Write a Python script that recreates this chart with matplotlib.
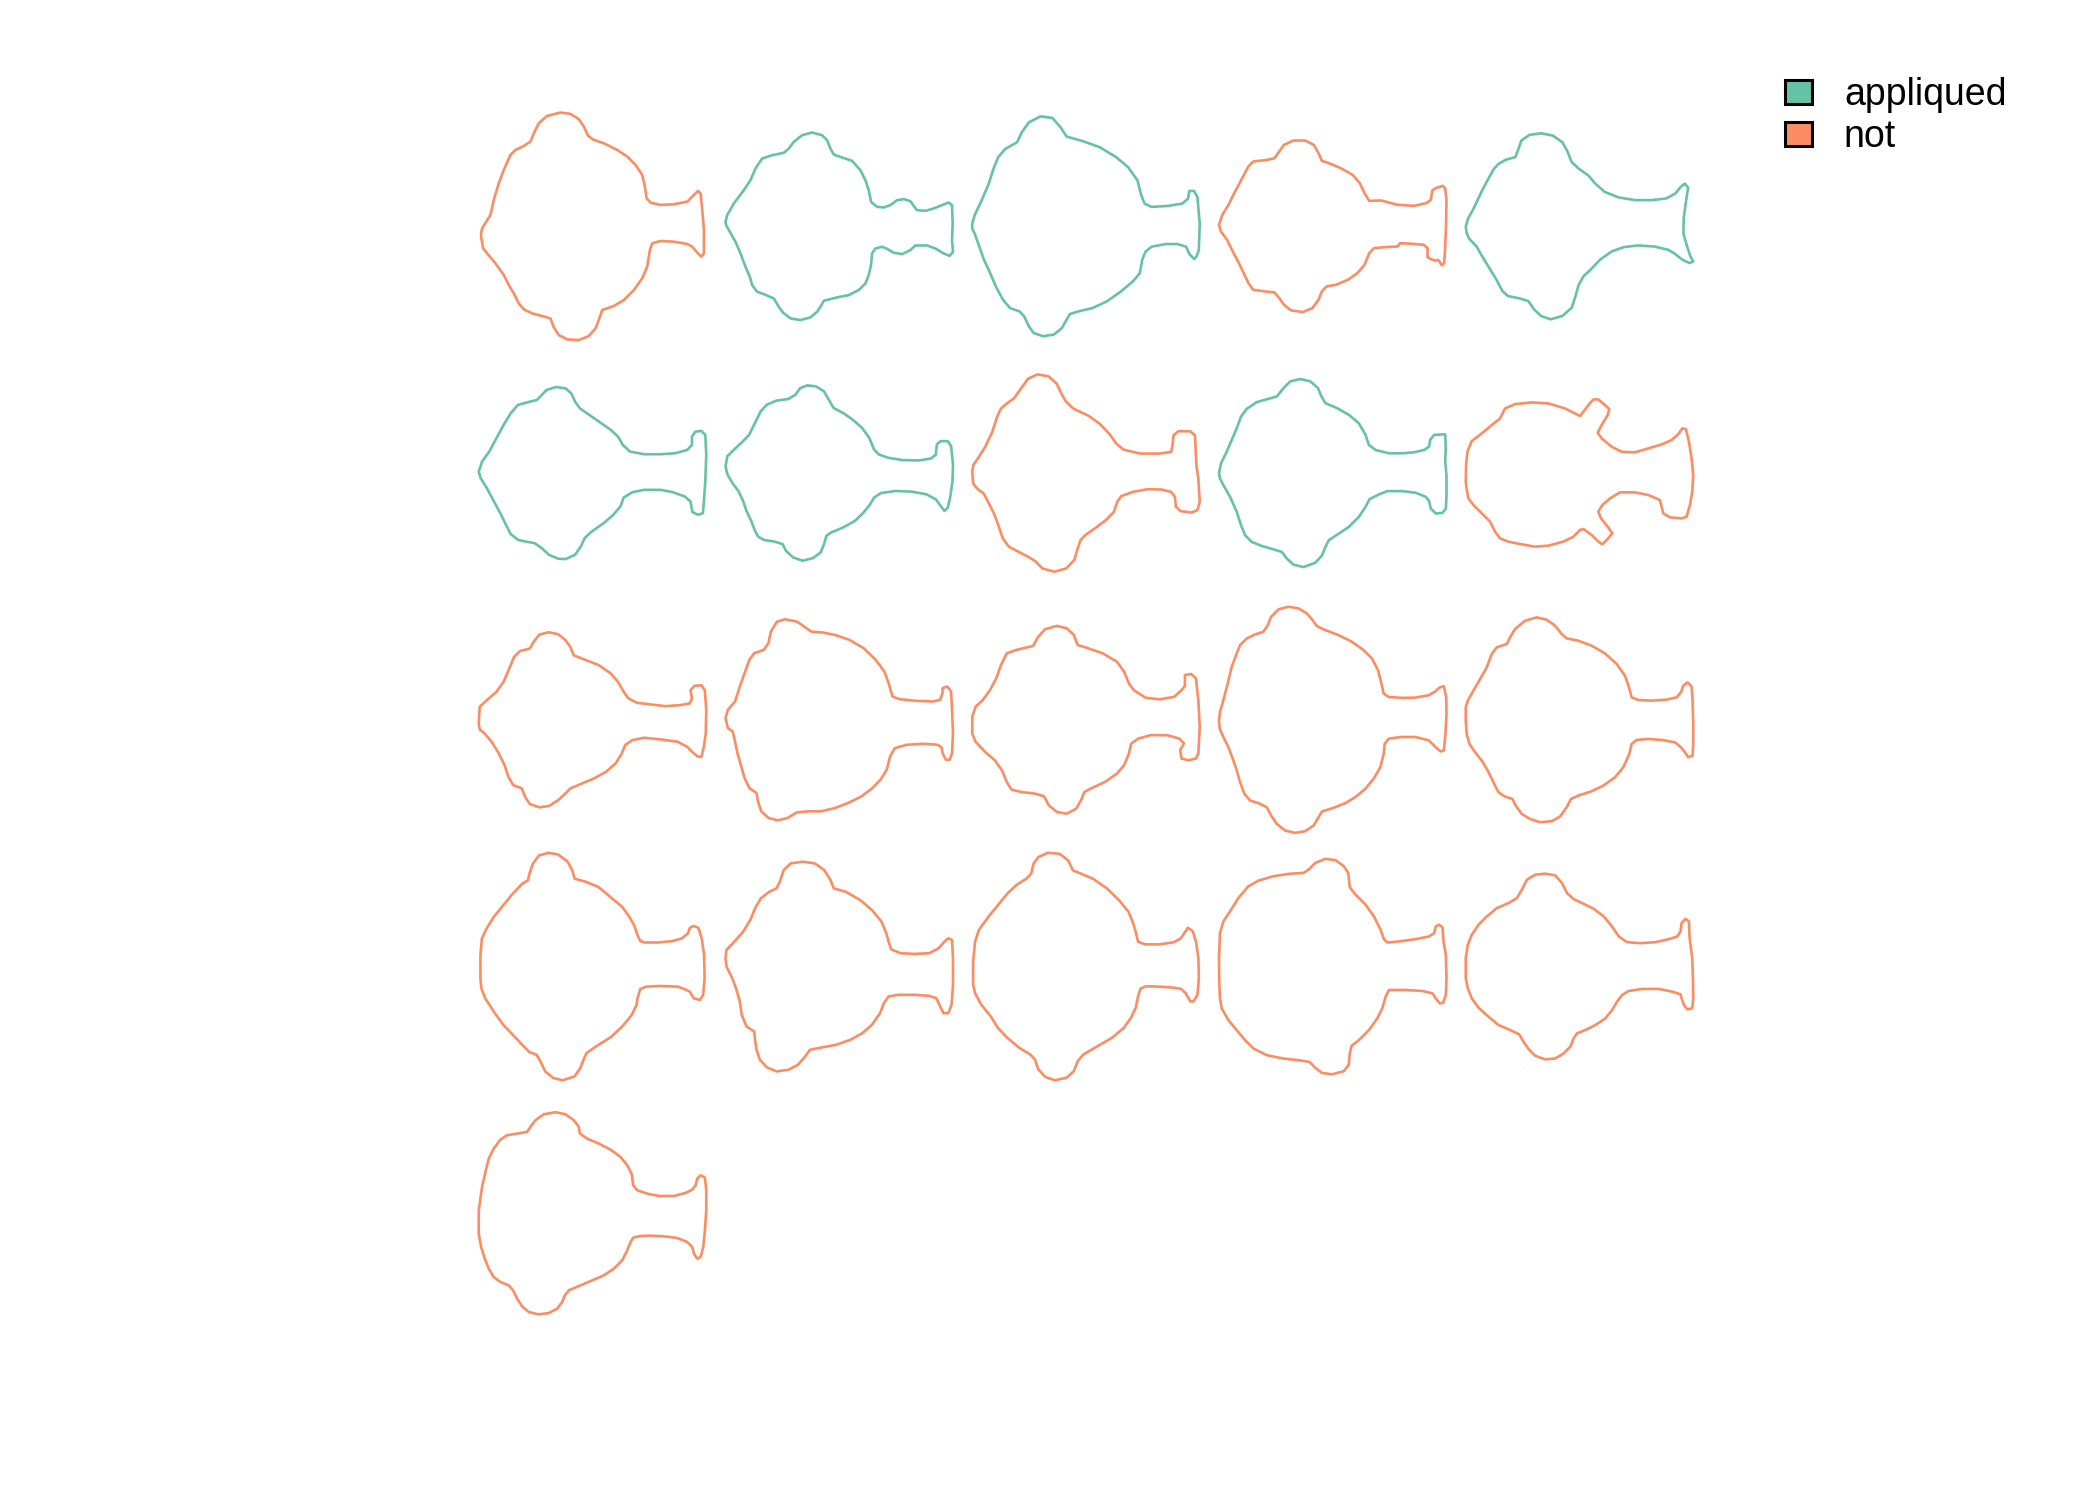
import matplotlib
matplotlib.use("Agg")
import matplotlib.pyplot as plt
from matplotlib.patches import Polygon, Patch
import numpy as np

plt.rcParams["font.family"] = ["Liberation Sans", "DejaVu Sans"]

# outlines (pixel units of the read-off crops, y downwards)
R1C1 = [(62,430),(65,415),(90,375),(100,330),(115,280),(130,240),(150,195),(165,180),(190,168),(210,155),
        (220,130),(235,100),(260,78),(300,68),(330,72),(355,88),(370,110),(383,138),(400,150),(430,160),
        (470,180),(500,200),(525,225),(545,255),(553,290),(558,325),(570,338),(600,345),(640,343),(680,335),
        (700,315),(712,303),(720,310),(725,360),(730,420),(730,490),(722,500),(710,488),(695,470),(680,462),
        (640,455),(600,453),(575,460),(568,480),(560,530),(545,565),(520,600),(490,630),(460,648),(425,660),
        (415,690),(405,715),(385,738),(355,750),(320,748),(295,735),(280,712),(270,685),(245,678),(215,670),
        (190,658),(175,640),(160,610),(145,585),(130,555),(105,520),(80,490),(68,475),(62,440)]
R1C2 = [(795,395),(800,375),(820,340),(850,300),(870,270),(885,235),(905,205),(935,195),(970,188),(985,175),
        (1000,155),(1025,135),(1055,127),(1085,135),(1100,150),(1110,175),(1120,193),(1145,202),(1175,212),
        (1200,240),(1215,270),(1225,300),(1232,335),(1250,350),(1270,352),(1290,345),(1310,330),(1330,327),
        (1350,333),(1362,350),(1370,360),(1395,362),(1420,355),(1445,345),(1465,337),(1475,345),(1477,400),
        (1475,450),(1478,485),(1468,497),(1450,490),(1425,475),(1400,466),(1365,466),(1350,480),(1325,492),
        (1300,488),(1280,476),(1265,470),(1245,475),(1235,490),(1232,525),(1225,555),(1215,580),(1195,600),
        (1165,615),(1130,622),(1090,632),(1080,650),(1070,665),(1050,682),(1020,690),(990,685),(968,668),
        (955,650),(940,625),(910,612),(890,605),(875,585),(868,560),(855,530),(840,490),(825,455),(808,425),
        (797,405)]
R1C3 = [(5,370),(10,345),(25,300),(40,250),(50,205),(60,170),(75,145),(100,125),(110,95),(125,65),(150,47),
        (175,52),(192,80),(205,108),(240,122),(275,140),(310,170),(335,200),(355,240),(362,280),(370,310),
        (385,320),(420,317),(450,310),(462,295),(465,272),(475,272),(482,290),(487,370),(485,450),(480,470),
        (475,477),(465,462),(458,440),(440,432),(415,432),(385,440),(372,455),(365,480),(360,520),(345,545),
        (320,575),(290,605),(260,625),(230,635),(212,643),(205,660),(195,685),(178,705),(155,710),(135,700),
        (125,680),(115,650),(105,635),(85,625),(70,600),(55,560),(40,510),(30,480),(20,440),(10,400),(5,385)]
R1C4 = [(528,375),(535,345),(548,315),(560,280),(575,240),(590,200),(600,185),(630,180),(645,175),(655,155),
        (665,135),(685,122),(710,122),(728,135),(738,160),(745,183),(760,190),(785,205),(810,225),(825,250),
        (835,280),(845,303),(870,302),(905,315),(940,318),(965,310),(975,300),(978,272),(985,265),(1000,258),
        (1005,265),(1008,300),(1007,380),(1005,450),(1003,490),(998,497),(993,485),(990,480),(985,483),
        (975,478),(968,472),(968,445),(960,435),(935,432),(910,430),(905,440),(880,442),(855,445),(845,460),
        (835,495),(820,520),(800,540),(775,555),(755,560),(745,575),(738,600),(725,625),(705,637),(680,632),
        (665,615),(655,595),(645,578),(625,575),(600,570),(590,550),(580,520),(570,490),(557,455),(545,420),
        (532,395)]
R1C5 = [(1050,380),(1055,355),(1065,330),(1075,300),(1085,270),(1100,230),(1110,205),(1120,190),(1135,178),
        (1155,170),(1162,145),(1168,120),(1185,103),(1210,98),(1235,105),(1255,125),(1265,150),(1275,185),
        (1290,205),(1310,225),(1325,250),(1345,275),(1375,292),(1410,300),(1445,300),(1475,295),(1495,280),
        (1505,262),(1515,250),(1522,262),(1518,300),(1513,350),(1512,400),(1520,440),(1527,470),(1533,485),
        (1525,490),(1510,480),(1495,463),(1480,450),(1450,440),(1415,437),(1385,442),(1360,455),(1335,480),
        (1315,510),(1300,530),(1290,555),(1283,590),(1275,625),(1255,650),(1230,660),(1210,650),(1195,630),
        (1183,605),(1165,597),(1140,590),(1128,575),(1115,540),(1100,505),(1085,470),(1073,440),(1058,418),
        (1052,400)]
R2C1 = [(18,350),(25,320),(40,290),(55,250),(70,210),(85,175),(100,150),(125,140),(140,135),(150,120),
        (160,105),(180,96),(200,100),(212,115),(220,140),(230,160),(245,175),(270,200),(295,225),(310,245),
        (320,270),(335,290),(365,298),(400,298),(430,295),(455,285),(465,270),(465,245),(472,230),(485,228),
        (493,240),(495,300),(493,380),(490,440),(488,475),(478,480),(466,472),(462,440),(450,425),(425,412),
        (400,405),(365,405),(340,412),(322,428),(315,455),(300,480),(280,505),(255,530),(240,550),(232,575),
        (220,600),(200,613),(185,612),(165,600),(150,580),(135,565),(115,560),(100,555),(85,538),(75,510),
        (65,480),(50,440),(35,400),(22,370)]
R2C2 = [(538,335),(542,305),(560,280),(575,260),(588,240),(600,205),(612,170),(625,150),(645,138),(670,133),
        (685,120),(695,100),(710,92),(728,95),(745,110),(755,135),(765,160),(785,175),(805,195),(825,220),
        (840,250),(850,285),(860,300),(880,310),(910,317),(945,318),(970,312),(980,300),(982,270),(990,260),
        (1005,260),(1012,275),(1016,330),(1015,380),(1010,430),(1005,460),(998,470),(990,455),(980,435),
        (960,420),(930,412),(895,410),(865,416),(850,430),(842,450),(828,475),(810,500),(785,520),(760,535),
        (750,545),(745,570),(738,595),(722,612),(700,620),(680,610),(665,590),(658,570),(640,562),(620,558),
        (607,548),(600,530),(592,500),(582,470),(575,440),(565,410),(552,385),(542,360)]
R2C3 = [(1058,350),(1060,330),(1072,305),(1085,275),(1100,230),(1110,185),(1118,160),(1130,145),(1145,130),
        (1160,100),(1175,70),(1195,57),(1218,63),(1235,85),(1245,115),(1255,140),(1270,160),(1300,180),
        (1325,205),(1345,235),(1360,265),(1375,283),(1410,295),(1450,295),(1475,290),(1478,270),(1480,240),
        (1490,228),(1515,228),(1525,240),(1527,300),(1528,330),(1532,370),(1535,440),(1530,465),(1518,472),
        (1495,468),(1485,455),(1483,425),(1475,410),(1455,403),(1425,402),(1395,410),(1370,423),(1362,440),
        (1355,470),(1338,495),(1315,520),(1295,540),(1285,555),(1278,585),(1272,615),(1255,640),(1230,650),
        (1205,640),(1190,618),(1175,605),(1155,590),(1135,575),(1122,550),(1115,520),(1105,480),(1093,445),
        (1082,415),(1068,400),(1060,385)]
R2C4 = [(12,355),(18,325),(35,290),(50,255),(65,220),(78,185),(95,162),(125,142),(160,132),(185,125),
        (205,100),(225,80),(255,73),(285,80),(308,100),(318,125),(330,145),(365,160),(400,180),(430,205),
        (450,240),(460,270),(480,285),(520,295),(560,295),(595,292),(625,285),(640,275),(643,255),(655,240),
        (688,238),(690,280),(688,320),(692,360),(692,420),(690,460),(680,473),(660,475),(645,460),(640,438),
        (630,425),(600,413),(560,408),(515,408),(490,418),(462,432),(450,455),(430,485),(400,515),(370,535),
        (340,555),(330,575),(320,600),(300,622),(265,635),(235,628),(215,610),(200,590),(175,582),(140,572),
        (110,560),(90,540),(78,510),(65,470),(45,425),(25,390),(15,370)]
R2C5 = [(752,380),(753,330),(757,290),(770,258),(800,235),(830,210),(855,190),(870,160),(900,147),(950,142),
        (1000,145),(1050,160),(1080,175),(1095,183),(1105,170),(1120,150),(1135,133),(1150,133),(1168,148),
        (1183,162),(1178,180),(1160,210),(1148,233),(1160,250),(1190,275),(1220,290),(1260,292),(1300,280),
        (1340,268),(1370,255),(1390,237),(1402,220),(1413,222),(1422,260),(1430,310),(1435,360),(1432,410),
        (1425,450),(1415,485),(1400,490),(1365,487),(1345,475),(1340,455),(1335,435),(1300,420),(1260,412),
        (1215,412),(1185,430),(1162,450),(1150,470),(1158,490),(1178,515),(1192,535),(1178,552),(1162,568),
        (1148,558),(1130,540),(1105,522),(1095,525),(1075,545),(1045,560),(1000,572),(960,575),(920,568),
        (880,560),(855,550),(840,530),(825,500),(800,475),(775,450),(760,430),(755,405)]
R3C1 = [(18,370),(20,320),(35,300),(55,275),(70,245),(82,205),(92,170),(105,152),(125,145),(133,125),
        (145,103),(165,96),(185,102),(200,120),(210,140),(217,165),(240,178),(270,195),(295,220),(310,245),
        (322,275),(332,295),(350,308),(380,313),(410,318),(440,315),(460,310),(465,295),(462,270),(470,257),
        (485,255),(492,270),(495,330),(494,400),(490,440),(485,470),(478,470),(465,455),(455,440),(435,425),
        (400,418),(365,413),(340,420),(325,435),(318,460),(305,490),(285,515),(260,535),(235,550),(210,565),
        (200,580),(185,600),(165,618),(145,622),(125,612),(115,590),(108,565),(90,555),(80,530),(72,495),
        (60,460),(45,425),(30,400),(20,388)]
R3C2 = [(540,355),(545,330),(560,305),(570,260),(580,220),(590,180),(600,160),(620,150),(630,130),(635,95),
        (648,65),(665,58),(690,65),(705,80),(720,95),(745,98),(770,105),(800,120),(830,145),(855,180),
        (873,215),(882,250),(890,290),(905,298),(940,303),(975,305),(990,300),(995,280),(995,265),(1005,260),
        (1013,275),(1015,330),(1017,400),(1015,460),(1010,480),(1002,480),(995,460),(993,443),(985,435),
        (955,432),(920,435),(895,445),(885,470),(878,510),(865,540),(848,565),(825,590),(800,608),(770,625),
        (740,635),(715,635),(690,638),(670,655),(650,662),(630,655),(615,635),(608,605),(605,580),(590,565),
        (580,535),(573,500),(565,460),(560,425),(555,395),(545,385)]
R3C3 = [(1058,380),(1058,350),(1065,320),(1080,300),(1095,270),(1108,235),(1118,195),(1130,160),(1150,150),
        (1170,143),(1185,138),(1195,112),(1210,88),(1235,78),(1255,85),(1270,105),(1278,135),(1300,145),
        (1330,160),(1360,185),(1375,215),(1385,250),(1395,270),(1420,293),(1450,298),(1480,290),(1495,270),
        (1502,258),(1502,225),(1515,222),(1525,235),(1530,300),(1533,380),(1530,460),(1525,475),(1510,480),
        (1495,475),(1492,450),(1500,430),(1490,415),(1465,405),(1430,405),(1405,415),(1390,430),(1385,460),
        (1375,495),(1360,520),(1335,545),(1305,565),(1292,575),(1285,600),(1275,625),(1255,640),(1235,635),
        (1218,615),(1208,588),(1190,580),(1160,575),(1140,568),(1130,545),(1120,510),(1105,480),(1085,455),
        (1065,425),(1058,400)]
R3C4 = [(12,360),(15,335),(25,300),(38,250),(50,200),(65,160),(75,135),(95,115),(120,103),(145,95),(158,75),
        (168,50),(190,28),(220,20),(250,25),(275,40),(292,60),(305,78),(330,90),(370,105),(410,125),(445,150),
        (470,175),(488,210),(497,245),(505,280),(520,290),(560,293),(600,292),(640,285),(660,273),(672,262),
        (685,258),(692,290),(693,340),(690,400),(685,450),(675,453),(660,440),(640,420),(600,410),(555,410),
        (520,415),(508,430),(505,460),(495,500),(475,535),(450,565),(420,590),(390,608),(355,622),(320,633),
        (310,650),(295,675),(270,692),(240,697),(210,690),(185,670),(168,645),(155,620),(130,608),(105,600),
        (88,580),(75,545),(65,510),(55,480),(40,440),(25,410),(14,385)]
R3C5 = [(752,360),(752,320),(758,300),(775,270),(795,235),(815,200),(830,160),(845,140),(875,130),(885,110),
        (900,85),(930,60),(965,50),(995,57),(1020,75),(1040,100),(1055,113),(1090,120),(1130,135),(1170,158),
        (1205,190),(1230,225),(1242,260),(1250,290),(1270,298),(1310,300),(1355,297),(1385,290),(1398,275),
        (1405,255),(1418,245),(1430,258),(1433,300),(1435,370),(1435,430),(1433,465),(1420,470),(1410,455),
        (1398,440),(1380,425),(1340,418),(1300,415),(1265,418),(1250,430),(1243,460),(1225,500),(1200,530),
        (1165,555),(1130,572),(1090,585),(1068,595),(1055,620),(1035,648),(1010,662),(975,665),(945,655),
        (920,640),(902,615),(892,595),(870,588),(850,575),(835,545),(818,510),(800,480),(780,455),(763,430),
        (755,400)]
R4C1 = [(22,400),(22,330),(25,280),(35,250),(50,215),(70,180),(90,145),(110,115),(122,105),(125,85),(132,55),
        (145,30),(165,22),(185,27),(205,48),(215,75),(220,100),(245,110),(270,125),(295,155),(320,185),
        (335,215),(345,240),(352,270),(358,288),(368,292),(395,292),(425,288),(445,280),(458,265),(462,248),
        (470,242),(480,248),(487,280),(492,330),(493,400),(490,450),(483,465),(470,460),(462,440),(450,432),
        (437,425),(400,423),(370,425),(358,432),(352,460),(350,480),(340,510),(320,545),(295,578),(265,605),
        (245,625),(240,640),(232,670),(220,695),(195,707),(175,700),(158,680),(148,650),(140,630),(125,622),
        (110,600),(90,570),(70,540),(50,500),(32,460),(24,430)]
R4C2 = [(538,340),(540,315),(560,285),(575,260),(590,225),(600,190),(612,160),(630,140),(645,130),(652,110),
        (660,75),(675,55),(700,50),(725,55),(745,75),(758,105),(765,130),(790,140),(820,165),(845,195),
        (865,230),(875,265),(880,290),(885,313),(905,325),(935,327),(965,325),(985,310),(997,290),(1005,280),
        (1013,285),(1015,340),(1015,420),(1012,480),(1005,505),(995,505),(988,485),(980,460),(965,453),
        (935,450),(900,450),(880,455),(870,475),(862,505),(845,540),(825,565),(800,585),(770,600),(740,608),
        (715,615),(705,635),(690,660),(670,675),(645,680),(625,668),(610,645),(603,615),(600,585),(598,560),
        (582,545),(572,510),(568,470),(560,430),(552,400),(540,365)]
R4C3 = [(1058,420),(1058,350),(1062,290),(1070,255),(1090,215),(1110,180),(1130,145),(1150,118),(1170,100),
        (1180,85),(1185,55),(1195,35),(1215,22),(1240,25),(1258,45),(1268,75),(1285,85),(1310,100),(1340,130),
        (1365,165),(1385,200),(1395,235),(1400,260),(1405,290),(1420,298),(1450,298),(1480,292),(1495,280),
        (1502,265),(1510,248),(1520,258),(1527,290),(1532,340),(1533,400),(1530,450),(1522,470),(1515,470),
        (1505,445),(1495,432),(1475,428),(1440,425),(1420,425),(1410,432),(1405,455),(1400,490),(1390,520),
        (1375,550),(1350,580),(1320,605),(1290,630),(1278,650),(1270,680),(1255,700),(1230,708),(1210,698),
        (1195,675),(1188,645),(1178,630),(1155,610),(1130,580),(1110,550),(1095,515),(1075,480),(1062,445)]
R4C4 = [(13,420),(12,340),(15,265),(25,230),(45,200),(70,160),(100,125),(130,108),(175,95),(220,88),(265,85),
        (280,75),(300,55),(330,43),(360,47),(385,65),(398,85),(403,128),(420,150),(450,180),(475,215),
        (495,255),(505,283),(515,293),(550,290),(600,283),(640,275),(655,265),(660,245),(670,240),(680,248),
        (683,290),(690,330),(692,400),(690,450),(682,473),(672,475),(660,460),(650,445),(620,438),(570,435),
        (520,435),(510,455),(500,490),(485,520),(460,555),(430,585),(408,602),(402,630),(400,658),(385,678),
        (350,687),(320,683),(300,668),(283,650),(250,645),(205,640),(155,630),(115,610),(90,585),(65,555),
        (40,525),(20,490),(15,460)]
R4C5 = [(752,400),(752,340),(758,300),(770,270),(790,240),(815,215),(845,190),(880,175),(905,160),(920,135),
        (935,105),(960,90),(990,87),(1020,92),(1040,115),(1055,145),(1075,163),(1100,175),(1135,192),
        (1165,215),(1190,245),(1210,275),(1235,292),(1275,295),(1320,292),(1360,283),(1385,275),(1395,260),
        (1398,235),(1410,222),(1420,230),(1422,280),(1430,340),(1432,400),(1433,460),(1430,490),(1415,493),
        (1405,480),(1398,460),(1395,448),(1370,440),(1330,432),(1280,432),(1240,438),(1220,450),(1205,470),
        (1190,495),(1170,520),(1140,540),(1110,555),(1085,565),(1075,580),(1065,605),(1045,625),(1020,640),
        (990,643),(960,632),(940,612),(925,590),(912,568),(885,555),(850,540),(820,515),(790,488),(770,460),
        (758,430)]
R5C1 = [(25,400),(25,330),(35,260),(45,215),(55,175),(70,145),(90,118),(110,105),(140,100),(170,95),(180,80),
        (195,60),(220,42),(255,36),(285,42),(310,60),(325,80),(328,100),(350,115),(385,130),(420,148),
        (450,170),(470,195),(483,220),(488,255),(500,270),(530,280),(565,287),(610,287),(645,278),(665,268),
        (675,255),(680,235),(690,225),(703,232),(707,270),(707,330),(703,390),(698,440),(690,470),(680,475),
        (670,460),(665,440),(650,425),(620,413),(580,408),(540,406),(510,407),(488,412),(480,425),(470,450),
        (455,480),(430,505),(400,525),(365,540),(330,555),(295,570),(283,585),(275,605),(260,625),(235,638),
        (205,642),(175,635),(155,618),(140,595),(128,570),(115,555),(90,545),(70,530),(55,505),(43,475),
        (32,440)]

outlines = [R1C1, R1C2, R1C3, R1C4, R1C5,
            R2C1, R2C2, R2C3, R2C4, R2C5,
            R3C1, R3C2, R3C3, R3C4, R3C5,
            R4C1, R4C2, R4C3, R4C4, R4C5,
            R5C1]
# horizontal/vertical ratio of the crops the outlines were read from
read_aspect = [1.0, 1.0, 1.423, 1.423, 1.423,
               1.433, 1.433, 1.433, 1.0, 1.0,
               1.433, 1.433, 1.433, 1.0, 1.0,
               1.433, 1.433, 1.433, 1.0, 1.0,
               1.0]
groups = ["not", "appliqued", "appliqued", "not", "appliqued",
          "appliqued", "appliqued", "not", "appliqued", "not",
          "not", "not", "not", "not", "not",
          "not", "not", "not", "not", "not",
          "not"]
levels = ["appliqued", "not"]
palette = {"appliqued": "#66C2A5", "not": "#FC8D62"}

# panel layout (pixels)
W, H = 2100, 1500
pitch = 246.75
x0, y0 = 592.5, 226.3
size = 227.5
ncol = 5

fig = plt.figure(figsize=(W / 100, H / 100), dpi=100)
ax = fig.add_axes([0, 0, 1, 1])
ax.set_xlim(0, W)
ax.set_ylim(H, 0)
ax.axis("off")

for i, (coo, asp, g) in enumerate(zip(outlines, read_aspect, groups)):
    p = np.array(coo, dtype=float)
    p[:, 0] *= asp
    lo, hi = p.min(axis=0), p.max(axis=0)
    sc = size / (hi - lo).max()
    p = (p - (lo + hi) / 2) * sc
    r, c = divmod(i, ncol)
    p[:, 0] += x0 + c * pitch
    p[:, 1] += y0 + r * pitch
    ax.add_patch(Polygon(p, closed=True, fill=False, edgecolor=palette[g],
                         linewidth=1.9, joinstyle="round"))

handles = [Patch(facecolor=palette[l], edgecolor="black", linewidth=2.2, label=l) for l in levels]
fig.legend(handles=handles, loc="upper left", bbox_to_anchor=(1785 / W, 1 - 77 / H),
           frameon=False, fontsize=27, handlelength=0.72, handleheight=0.62,
           handletextpad=0.85, labelspacing=0.16, borderpad=0, borderaxespad=0)

fig.savefig("out.png", dpi=100)
